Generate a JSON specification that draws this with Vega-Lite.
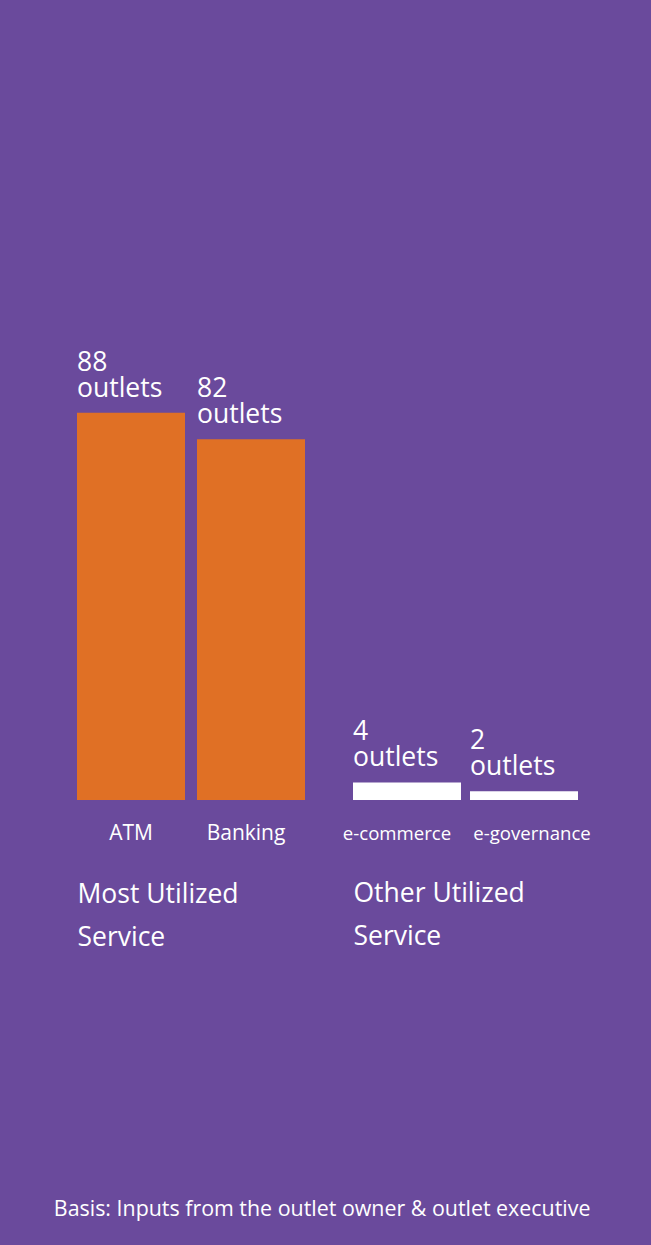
{
  "$schema": "https://vega.github.io/schema/vega-lite/v6.json",
  "autosize": {"type": "none"},
  "padding": {"left": 77, "top": 8, "right": 574, "bottom": 1237},
  "background": "#6a4a9c",
  "datasets": {
    "most": [
      {"service": "ATM", "outlets": 88, "label": "88\noutlets"},
      {"service": "Banking", "outlets": 82, "label": "82\noutlets"}
    ],
    "other": [
      {"service": "e-commerce", "outlets": 4, "label": "4\noutlets"},
      {"service": "e-governance", "outlets": 2, "label": "2\noutlets"}
    ]
  },
  "title": {
    "text": "Basis: Inputs from the outlet owner & outlet executive",
    "orient": "bottom",
    "anchor": "middle",
    "offset": 248,
    "dx": -11.5,
    "fontSize": 21.4,
    "fontWeight": "normal",
    "font": "Open Sans",
    "color": "#ffffff"
  },
  "spacing": 48,
  "bounds": "flush",
  "hconcat": [
    {
      "width": 228,
      "height": 792,
      "data": {"name": "most"},
      "encoding": {
        "x": {
          "field": "service", "type": "nominal", "sort": null,
          "scale": {"paddingInner": 0.1, "paddingOuter": 0},
          "axis": {
            "labelAngle": 0, "labelFontSize": 21, "labelColor": "#ffffff", "labelFont": "Open Sans",
            "labelBaseline": "alphabetic", "labelPadding": 39, "ticks": false, "domain": false,
            "labelOffset": {"condition": {"test": "datum.value === 'Banking'", "value": -5}, "value": 0},
            "title": ["Most Utilized", "Service"], "titleFontSize": 26.5, "titleFontWeight": "normal",
            "titleColor": "#ffffff", "titleFont": "Open Sans", "titleAnchor": "start", "titleAlign": "left",
            "titleLineHeight": 43, "titleBaseline": "top", "titlePadding": 38
          }
        },
        "y": {
          "field": "outlets", "type": "quantitative",
          "scale": {"domain": [0, 180], "nice": false},
          "axis": null
        }
      },
      "layer": [
        {"mark": {"type": "bar", "color": "#e07025"}},
        {
          "mark": {"type": "text", "align": "left", "baseline": "bottom", "dy": -36, "lineBreak": "\n", "lineHeight": 26, "fontSize": 26.5, "font": "Open Sans", "color": "#ffffff"},
          "encoding": {
            "x": {"field": "service", "type": "nominal", "sort": null, "bandPosition": 0},
            "text": {"field": "label", "type": "nominal"}
          }
        }
      ]
    },
    {
      "width": 225,
      "height": 792,
      "data": {"name": "other"},
      "encoding": {
        "x": {
          "field": "service", "type": "nominal", "sort": null,
          "scale": {"paddingInner": 0.077, "paddingOuter": 0},
          "axis": {
            "labelAngle": 0, "labelFontSize": 18.6, "labelColor": "#ffffff", "labelFont": "Open Sans",
            "labelBaseline": "alphabetic", "labelPadding": 39, "ticks": false, "domain": false,
            "labelOffset": {"condition": {"test": "datum.value === 'e-commerce'", "value": -10}, "value": 8},
            "title": ["Other Utilized", "Service"], "titleFontSize": 26.5, "titleFontWeight": "normal",
            "titleColor": "#ffffff", "titleFont": "Open Sans", "titleAnchor": "start", "titleAlign": "left",
            "titleLineHeight": 43, "titleBaseline": "top", "titlePadding": 38
          }
        },
        "y": {
          "field": "outlets", "type": "quantitative",
          "scale": {"domain": [0, 180], "nice": false},
          "axis": null
        }
      },
      "layer": [
        {"mark": {"type": "bar", "color": "#ffffff"}},
        {
          "mark": {"type": "text", "align": "left", "baseline": "bottom", "dy": -36, "lineBreak": "\n", "lineHeight": 26, "fontSize": 26.5, "font": "Open Sans", "color": "#ffffff"},
          "encoding": {
            "x": {"field": "service", "type": "nominal", "sort": null, "bandPosition": 0},
            "text": {"field": "label", "type": "nominal"}
          }
        }
      ]
    }
  ],
  "config": {
    "view": {"stroke": null},
    "font": "Open Sans"
  }
}
